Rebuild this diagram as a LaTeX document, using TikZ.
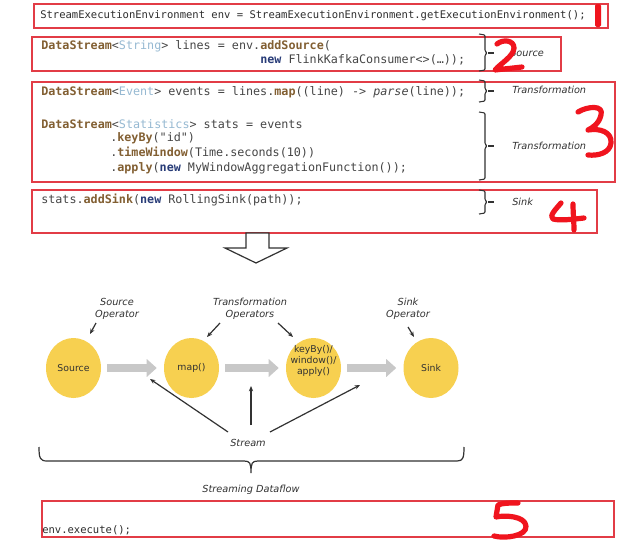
\documentclass[tikz,border=0pt]{standalone}
\usepackage{fontspec}
\setmainfont{DejaVu Sans}
\setmonofont{DejaVu Sans Mono}
\usetikzlibrary{shapes.geometric,arrows.meta}
\definecolor{boxred}{RGB}{226,60,70}
\definecolor{inkred}{RGB}{240,20,30}
\definecolor{codegray}{RGB}{70,70,70}
\definecolor{codedark}{RGB}{45,45,45}
\definecolor{kwbrown}{RGB}{130,95,50}
\definecolor{typeblue}{RGB}{150,185,210}
\definecolor{newblue}{RGB}{40,60,120}
\definecolor{opyellow}{RGB}{247,208,80}
\definecolor{blockgray}{RGB}{200,200,200}
\definecolor{darkline}{RGB}{50,50,50}
\newcommand{\ckw}[1]{\textcolor{kwbrown}{\bfseries #1}}
\newcommand{\cty}[1]{\textcolor{typeblue}{#1}}
\newcommand{\cnew}[1]{\textcolor{newblue}{\bfseries #1}}
\tikzset{
  codebox/.style={draw=boxred, line width=0.9pt},
  codeA/.style={anchor=west, inner sep=0pt, text=codedark, font=\fontsize{7.9}{9}\ttfamily},
  codeB/.style={anchor=west, inner sep=0pt, text=codegray, font=\fontsize{8.8}{10}\ttfamily},
  lbl/.style={inner sep=0pt, text=darkline, font=\fontsize{7.3}{9}\selectfont\itshape},
  bracket/.style={draw=darkline, line width=0.8pt, rounded corners=0.8pt},
  ink/.style={draw=inkred, line width=3.9pt, line cap=round, line join=round},
  op/.style={ellipse, fill=opyellow, inner sep=0pt, minimum width=41.25pt, minimum height=45pt,
    text=darkline, font=\fontsize{7}{8.2}\selectfont},
  optext/.style={inner sep=0pt, align=center, text=darkline, font=\fontsize{7}{8.2}\selectfont},
  blockarrow/.style={draw=blockgray, line width=6pt, -{Triangle[length=7.5pt,width=13pt]},
    shorten <=4.5pt, shorten >=5.25pt},
  thinarrow/.style={draw=darkline, line width=0.9pt, -{Stealth[length=4pt,width=3.2pt]}},
}
\begin{document}
\begin{tikzpicture}[x=0.75pt,y=-0.75pt]
\useasboundingbox (0,0) rectangle (640,546);
\fill[white] (0,0) rectangle (640,546);

% ---- code boxes
\draw[codebox] (34,4) rectangle (608,28);
\draw[codebox] (32,37) rectangle (561,71);
\draw[codebox] (32,82) rectangle (615,182);
\draw[codebox] (32,190) rectangle (597,233);
\draw[codebox] (42,501) rectangle (614,537);

% ---- code lines
\node[codeA] (l1) at (40,16) {StreamExecutionEnvironment env = StreamExecutionEnvironment.getExecutionEnvironment();};
\node[codeB] (l2a) at (41,46) {\ckw{DataStream}<\cty{String}> lines = env.\ckw{addSource}(};
\node[codeB] (l2b) at (260,60) {\cnew{new} FlinkKafkaConsumer<>(…));};
\node[codeB] (l3) at (41,92) {\ckw{DataStream}<\cty{Event}> events = lines.\ckw{map}((line) -> \textit{parse}(line));};
\node[codeB] (l4a) at (41,124) {\ckw{DataStream}<\cty{Statistics}> stats = events};
\node[codeB] (l4b) at (110,138) {.\ckw{keyBy}("id")};
\node[codeB] (l4c) at (110,153) {.\ckw{timeWindow}(Time.seconds(10))};
\node[codeB] (l4d) at (110,168) {.\ckw{apply}(\cnew{new} MyWindowAggregationFunction());};
\node[codeB] (l5) at (41,200) {stats.\ckw{addSink}(\cnew{new} RollingSink(path));};
\node[codeA] (l6) at (42,530) {env.execute();};

% ---- code-side braces
\draw[bracket] (479,34) -- (485,35) -- (485,51) -- (487,53) -- (485,55) -- (485,70) -- (479,71);
\draw[bracket] (488,53) -- (494,53);
\draw[bracket] (479,80) -- (485,81) -- (485,89) -- (487,91) -- (485,93) -- (485,101) -- (479,102);
\draw[bracket] (488,91) -- (494,91);
\draw[bracket] (479,112) -- (485,113) -- (485,144) -- (487,146) -- (485,148) -- (485,179) -- (479,180);
\draw[bracket] (488,146) -- (494,146);
\draw[bracket] (479,190) -- (485,191) -- (485,200) -- (487,202) -- (485,204) -- (485,213) -- (479,214);
\draw[bracket] (488,202) -- (494,202);

\node[lbl, anchor=west] (lsrc) at (510,53) {Source};
\node[lbl, anchor=west] (ltr1) at (512,90) {Transformation};
\node[lbl, anchor=west] (ltr2) at (512,146) {Transformation};
\node[lbl, anchor=west] (lsink) at (512,202) {Sink};

% ---- hollow down arrow
\draw[darkline, line width=0.9pt, fill=white, line join=miter]
  (246,233) -- (269,233) -- (269,248) -- (287,248) -- (256,263) -- (225,248) -- (246,248) -- cycle;

% ---- operator diagram
\node[op] (src) at (73.5,368) {Source};
\node[op] (map) at (191.5,368) {map()};
\node[op] (kbw) at (313.5,368) {};
\node[optext] (kbwt) at (313.5,361) {keyBy()/\\window()/\\apply()};
\node[op] (sink) at (431,368) {Sink};

\draw[blockarrow] (src) -- (map);
\draw[blockarrow] (map) -- (kbw);
\draw[blockarrow] (kbw) -- (sink);

\node[lbl, align=center] (srcop) at (117,309) {Source\\Operator};
\node[lbl, align=center] (trop) at (250,309) {Transformation\\Operators};
\node[lbl, align=center] (sinkop) at (408,309) {Sink\\Operator};
\node[lbl] (stream) at (248,443) {Stream};
\node[lbl] (sdf) at (251,490) {Streaming Dataflow};

\coordinate (a1s) at (96,323);  \coordinate (a1e) at (90,334);
\coordinate (a2s) at (220,323); \coordinate (a2e) at (207,337);
\coordinate (a3s) at (278,323); \coordinate (a3e) at (293,337);
\coordinate (a4s) at (408,327); \coordinate (a4e) at (414,337);
\draw[thinarrow] (a1s) -- (a1e);
\draw[thinarrow] (a2s) -- (a2e);
\draw[thinarrow] (a3s) -- (a3e);
\draw[thinarrow] (a4s) -- (a4e);

\coordinate (s1s) at (228,432); \coordinate (s1e) at (150,379);
\coordinate (s2s) at (251,425); \coordinate (s2e) at (251,386);
\coordinate (s3s) at (270,432); \coordinate (s3e) at (360,385);
\draw[thinarrow] (s1s) -- (s1e);
\draw[thinarrow] (s2s) -- (s2e);
\draw[thinarrow] (s3s) -- (s3e);

% ---- big brace
\draw[darkline, line width=0.9pt]
  (39,447) .. controls (39,458) and (40,461) .. (47,461) -- (244,461)
  .. controls (250,461) and (251,463) .. (251,473)
  .. controls (251,463) and (252,461) .. (258,461) -- (457,461)
  .. controls (463,461) and (464,458) .. (464,447);

% ---- handwritten red numbers
\fill[inkred, rounded corners=1.2pt] (595,4) rectangle (601,27);
\draw[ink] (497,44) .. controls (503,39) and (514,40) .. (514,48)
  .. controls (514,56) and (500,64) .. (495,70) .. controls (503,69) and (514,68) .. (522,67);
\draw[ink] (578,112) .. controls (588,106) and (604,105) .. (601,115)
  .. controls (599,124) and (592,128) .. (588,130)
  .. controls (600,128) and (612,132) .. (611,143)
  .. controls (610,153) and (598,156) .. (588,155);
\draw[ink] (561,203) .. controls (555,210) and (549,216) .. (553,219)
  .. controls (560,221) and (575,219) .. (584,218);
\draw[ink] (573,204) .. controls (573,212) and (574,222) .. (574,230);
\draw[ink] (518,503) .. controls (510,503) and (502,503) .. (498,505) -- (496,517)
  .. controls (505,515) and (525,516) .. (526,526)
  .. controls (527,536) and (505,539) .. (494,536);
\end{tikzpicture}
\end{document}
